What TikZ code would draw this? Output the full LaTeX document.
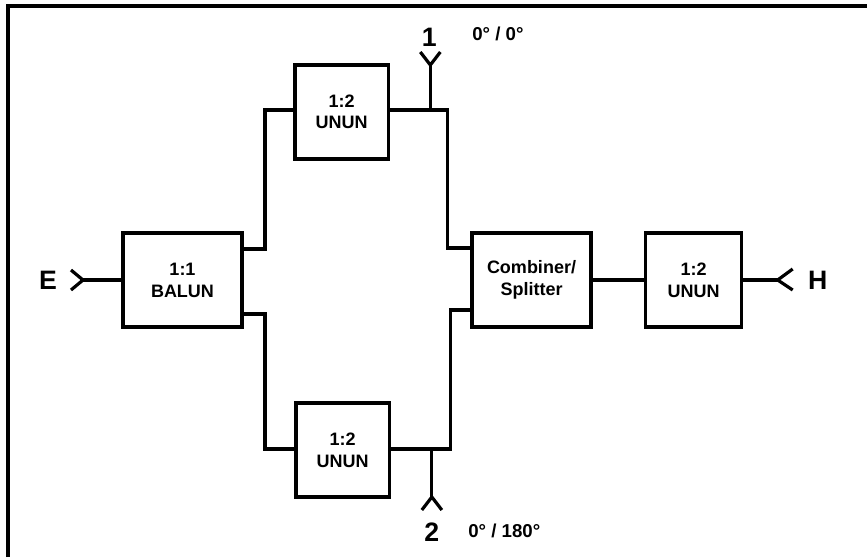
\documentclass[tikz,border=0pt]{standalone}
\usepackage{fontspec}
\setmainfont{Liberation Sans}
\usetikzlibrary{positioning,calc}
\tikzset{
  blockbox/.style={
    draw=black, line width=2.4pt, align=center, outer sep=0pt, inner sep=0pt,
    font=\fontsize{13.5}{16.5}\selectfont\bfseries,
    minimum width=89.25pt, minimum height=70.5pt
  },
  ununbox/.style={blockbox, minimum width=70pt},
  wire/.style={draw=black, line width=2.4pt, line join=miter},
  portlab/.style={font=\fontsize{20}{22}\selectfont\bfseries, inner sep=0pt},
  phaselab/.style={font=\fontsize{14}{16}\selectfont\bfseries, inner sep=0pt}
}
\begin{document}
\begin{tikzpicture}[x=0.75pt, y=-0.75pt]
  \useasboundingbox (0,0) rectangle (867,557);
  \coordinate (framebl) at (8,557);
  \coordinate (frametl) at (8,6);
  \coordinate (frametr) at (867,6);
  \draw[black, line width=2.7pt] (framebl) -- (frametl) -- (frametr);

  \node[blockbox] (balun) at (182.5,280) {1:1\\BALUN};
  \node[ununbox, above right=55.5pt and 39.75pt of balun] (ununtop) {1:2\\[-0.5pt]UNUN};
  \node[ununbox, below right=57pt and 40.5pt of balun] (ununbot) {1:2\\UNUN};
  \node[blockbox, right=172.5pt of balun] (comb) {Combiner/\\Splitter};
  \node[blockbox, minimum width=72pt, right=41pt of comb] (ununout) {1:2\\UNUN};

  \coordinate[left=30pt of balun] (forkE);
  \coordinate[right=27pt of ununout] (forkH);
  \coordinate (fork1) at ($(ununtop.east)+(42,-47)$);
  \coordinate (fork2) at ($(ununbot.east)+(42.5,47)$);
  \coordinate (tapT) at ($(ununtop.east)+(0,-2)$);
  \coordinate (tapB) at ($(ununbot.east)+(0,-1)$);

  \draw[wire] (forkE) -- (balun);
  \draw[wire] (ununout) -- (forkH);
  \draw[wire] (comb) -- (ununout);
  \draw[wire] ($(balun.east)+(0,-31)$) -- ++(23,0) |- ($(ununtop.west)+(0,-2)$);
  \draw[wire] ($(balun.east)+(0,34)$) -- ++(23,0) |- ($(ununbot.west)+(0,-1)$);
  \draw[wire] (tapT) -- ++(59,0) |- ($(comb.west)+(0,-32)$);
  \draw[wire] (tapB) -- ++(61,0) |- ($(comb.west)+(0,30)$);
  \draw[wire] (fork1) -- (fork1 |- tapT);
  \draw[wire] (fork2) -- (fork2 |- tapB);

  \draw[wire] ($(forkE)+(-12,-10)$) -- (forkE) -- ($(forkE)+(-12,10)$);
  \draw[wire] ($(forkH)+(15,-11)$) -- (forkH) -- ($(forkH)+(15,10)$);
  \draw[wire] ($(fork1)+(-10,-13)$) -- (fork1) -- ($(fork1)+(10,-13)$);
  \draw[wire] ($(fork2)+(-10,13)$) -- (fork2) -- ($(fork2)+(10,13)$);

  \node[portlab] (labE) at ($(forkE)+(-35,0)$) {E};
  \node[portlab] (labH) at ($(forkH)+(40,0)$) {H};
  \node[portlab] (lab1) at ($(fork1)+(-1,-28)$) {1};
  \node[portlab] (lab2) at ($(fork2)+(0,35)$) {2};
  \node[phaselab, anchor=west] (phase1) at (472,34) {0° / 0°};
  \node[phaselab, anchor=west] (phase2) at (468,531) {0° / 180°};
\end{tikzpicture}
\end{document}
